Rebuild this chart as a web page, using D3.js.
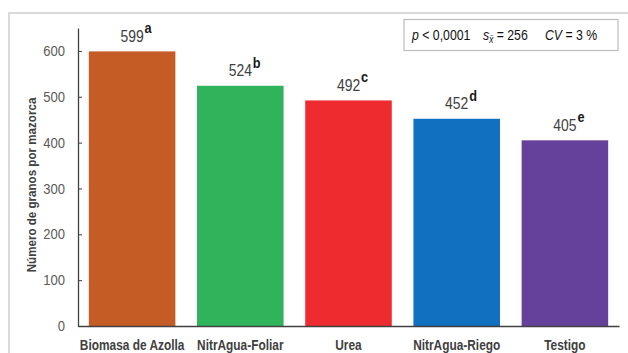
<!DOCTYPE html>
<html>
<head>
<meta charset="utf-8">
<script src="https://cdn.jsdelivr.net/npm/d3@7"></script>
<style>
  html, body { margin: 0; padding: 0; background: #fff; }
  svg { display: block; }
  text { font-family: "Liberation Sans", Arial, sans-serif; }
</style>
</head>
<body>
<svg id="chart" width="628" height="353"></svg>
<script>
// Número de granos por mazorca según tratamiento
const categories = ["Biomasa de Azolla", "NitrAgua-Foliar", "Urea", "NitrAgua-Riego", "Testigo"];
const values = [599, 524, 492, 452, 405];
const letters = ["a", "b", "c", "d", "e"];
const colors = ["#c55c26", "#2fb45c", "#ee2c30", "#1170bf", "#66419b"];
const yTicks = [0, 100, 200, 300, 400, 500, 600];

// horizontal squeeze used to get a narrow typeface look
const NARROW = 0.82;

const svg = d3.select("#chart");

// light outer frame
svg.append("rect")
  .attr("x", 9).attr("y", 13)
  .attr("width", 640).attr("height", 360)
  .attr("fill", "none")
  .attr("stroke", "#dadada")
  .attr("stroke-width", 2);

const x = d3.scaleBand()
  .domain(categories)
  .range([78, 619])
  .paddingInner(0.2)
  .paddingOuter(0.1);

const y = d3.scaleLinear()
  .domain([0, 650])
  .range([326, 28]);

// bars
svg.append("g").selectAll("rect")
  .data(values)
  .join("rect")
  .attr("x", (d, i) => x(categories[i]))
  .attr("y", d => y(d))
  .attr("width", x.bandwidth())
  .attr("height", d => y(0) - y(d))
  .attr("fill", (d, i) => colors[i]);

// y axis
const yAxis = svg.append("g")
  .attr("transform", "translate(78,0)")
  .call(d3.axisLeft(y).tickValues(yTicks).tickSize(-4).tickSizeOuter(0));
yAxis.select(".domain").attr("stroke", "#404040").attr("stroke-width", 1.3);
yAxis.selectAll(".tick line").attr("stroke", "#404040");
yAxis.selectAll(".tick text")
  .attr("x", 0)
  .attr("transform", "translate(-13,0) scale(0.9,1)")
  .attr("fill", "#595959")
  .style("font-size", "14.5px");

// x axis
const xAxis = svg.append("g")
  .attr("transform", "translate(0,326)")
  .call(d3.axisBottom(x).tickSize(0));
xAxis.select(".domain").attr("stroke", "#404040").attr("stroke-width", 1.3);
xAxis.selectAll(".tick text")
  .attr("y", 0).attr("dy", 0)
  .attr("transform", `translate(0,24) scale(${NARROW},1)`)
  .attr("fill", "#404040")
  .style("font-size", "14.5px")
  .style("font-weight", "bold");

// y axis title
svg.append("text")
  .attr("transform", "translate(36,185) rotate(-90) scale(0.86,1)")
  .attr("text-anchor", "middle")
  .attr("fill", "#404040")
  .style("font-size", "13.5px")
  .style("font-weight", "bold")
  .text("Número de granos por mazorca");

// value labels with significance letters
const labels = svg.append("g").selectAll("g")
  .data(values)
  .join("g")
  .attr("transform", (d, i) => `translate(${x(categories[i]) + x.bandwidth() / 2},${y(d) - 9.5})`);
labels.append("text")
  .attr("transform", `scale(${NARROW},1)`)
  .attr("text-anchor", "middle")
  .attr("fill", "#404040")
  .style("font-size", "17px")
  .text(d => d);
labels.append("text")
  .attr("transform", "translate(12.5,-8.5) scale(0.85,1)")
  .attr("fill", "#1a1a1a")
  .style("font-size", "15px")
  .style("font-weight", "bold")
  .text((d, i) => letters[i]);

// statistics box
svg.append("rect")
  .attr("x", 404).attr("y", 19.5)
  .attr("width", 214).attr("height", 31)
  .attr("fill", "#fff")
  .attr("stroke", "#bdbdbd")
  .attr("stroke-width", 1.2);

const statsX = 412;
const local = X => (X - statsX) / NARROW;
const stats = svg.append("text")
  .attr("transform", `translate(${statsX},40) scale(${NARROW},1)`)
  .attr("fill", "#111")
  .style("font-size", "15px");
stats.append("tspan").attr("x", 0).style("font-style", "italic").text("p");
stats.append("tspan").text(" < 0,0001");
stats.append("tspan").attr("x", local(483)).style("font-style", "italic").text("s");
stats.append("tspan").attr("dy", 3).style("font-style", "italic").style("font-size", "10px").text("x̄");
stats.append("tspan").attr("dy", -3).text(" = 256");
stats.append("tspan").attr("x", local(545)).style("font-style", "italic").text("CV");
stats.append("tspan").text(" = 3 %");
</script>
</body>
</html>
